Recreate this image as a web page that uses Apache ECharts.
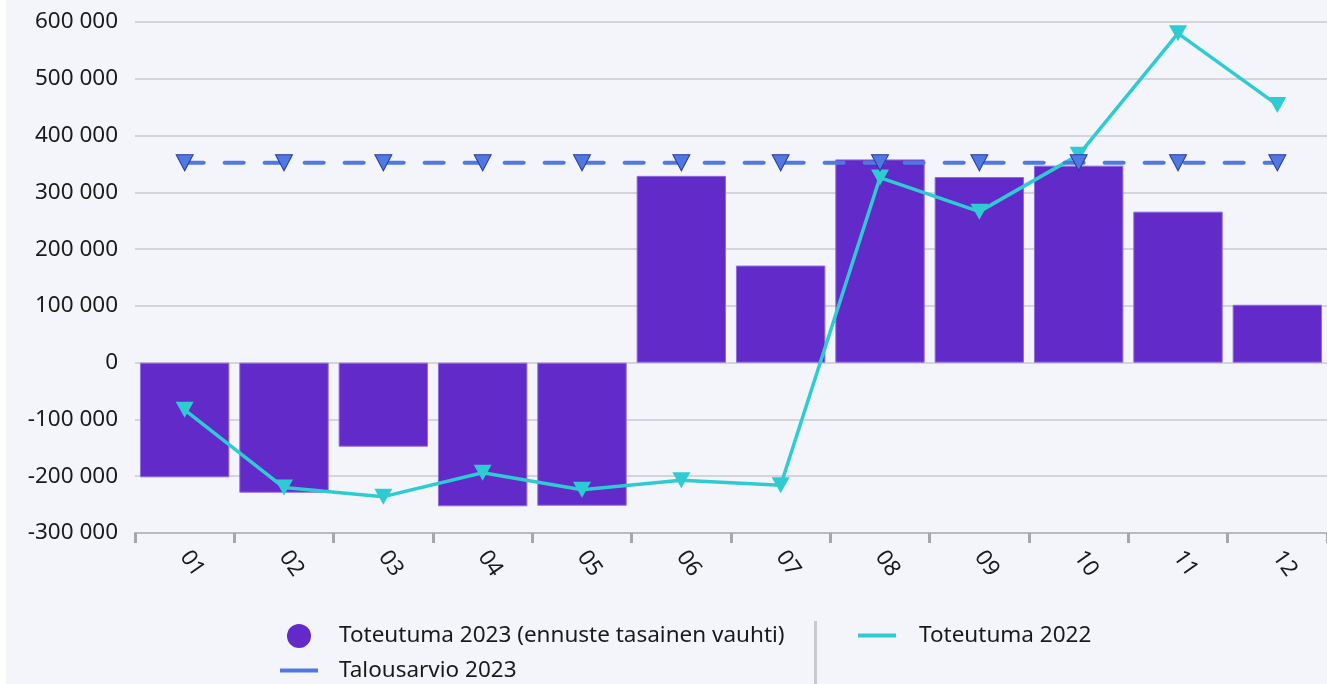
<!DOCTYPE html>
<html>
<head>
<meta charset="utf-8">
<script src="https://cdn.jsdelivr.net/npm/echarts@6/dist/echarts.min.js"></script>
<style>
  html, body { margin: 0; padding: 0; background: #ffffff; }
  #chart { position: absolute; left: 6px; top: 0; width: 1321px; height: 684px; background: #f4f5fa; }
</style>
</head>
<body>
<div id="chart"></div>
<script>
const months = ['01','02','03','04','05','06','07','08','09','10','11','12'];
const toteutuma2023 = [-202000, -229000, -148000, -253000, -252000, 329000, 171000, 358000, 327000, 347000, 266000, 102000];
const toteutuma2022 = [-83000, -220000, -236000, -194000, -224000, -207000, -216000, 326000, 266000, 366000, 580000, 454000];
const talousarvio2023 = [352000, 352000, 352000, 352000, 352000, 352000, 352000, 352000, 352000, 352000, 352000, 352000];
const yTicks = { min: -300000, max: 600000, interval: 100000 };
const names = ['Toteutuma 2023 (ennuste tasainen vauhti)', 'Toteutuma 2022', 'Talousarvio 2023'];

const FONT = 'Noto Sans';
const FS = 22.5;
function fmt(v) {
  const s = Math.abs(v).toString().replace(/\B(?=(\d{3})+(?!\d))/g, ' ');
  return (v < 0 ? '-' : '') + s;
}

const chart = echarts.init(document.getElementById('chart'), null, { renderer: 'canvas' });
chart.setOption({
  backgroundColor: '#f4f5fa',
  animation: false,
  textStyle: { fontFamily: FONT },
  grid: { left: 129, right: 0, top: 22, bottom: 151, containLabel: false },
  xAxis: {
    type: 'category',
    data: months,
    boundaryGap: true,
    axisLine: { onZero: false, lineStyle: { color: '#b9b9be', width: 2 } },
    axisTick: { show: true, alignWithLabel: false, length: 10, lineStyle: { color: '#a6a6ab', width: 3 } },
    axisLabel: { rotate: -55, color: '#1a1a1a', fontSize: FS, fontFamily: FONT, margin: 20 },
    splitLine: { show: false }
  },
  yAxis: {
    type: 'value',
    min: yTicks.min, max: yTicks.max, interval: yTicks.interval,
    axisLine: { show: false },
    axisTick: { show: false },
    axisLabel: { color: '#1a1a1a', fontSize: FS, fontFamily: FONT, margin: 17, formatter: fmt },
    splitLine: { lineStyle: { color: '#d4d4d9', width: 2 } }
  },
  legend: [
    {
      data: [
        { name: names[0], icon: 'circle', itemStyle: { color: '#612ac9', borderWidth: 0 } },
        { name: names[2], icon: 'path://M0,0H38V4H0Z', itemStyle: { color: '#4f78e2', borderWidth: 0 } }
      ],
      orient: 'vertical',
      left: 274, top: 624,
      padding: 0,
      itemWidth: 38, itemHeight: 24, itemGap: 11,
      textStyle: { fontSize: FS, color: '#1a1a1a', fontFamily: FONT, padding: [4, 0, 0, 16] }
    },
    {
      data: [
        { name: names[1], icon: 'path://M0,0H38V4H0Z', itemStyle: { color: '#2fcbd2', borderWidth: 0 } }
      ],
      orient: 'vertical',
      left: 852, top: 624,
      padding: 0,
      itemWidth: 38, itemHeight: 24, itemGap: 11,
      textStyle: { fontSize: FS, color: '#1a1a1a', fontFamily: FONT, padding: [4, 0, 0, 18] }
    }
  ],
  graphic: [
    { type: 'rect', left: 808, top: 621, shape: { width: 3, height: 70 }, style: { fill: '#c9c9cd' }, silent: true }
  ],
  series: [
    {
      name: names[0],
      type: 'bar',
      data: toteutuma2023,
      barCategoryGap: '10%',
      itemStyle: { color: '#612ac9', borderColor: '#8f6cdc', borderWidth: 1 }
    },
    {
      name: names[1],
      type: 'line',
      data: toteutuma2022,
      symbol: 'triangle', symbolRotate: 180, symbolSize: [18, 16],
      showAllSymbol: true,
      lineStyle: { color: '#2fcbd2', width: 3.5 },
      itemStyle: { color: '#2fcbd2' },
      z: 3
    },
    {
      name: names[2],
      type: 'line',
      data: talousarvio2023,
      symbol: 'triangle', symbolRotate: 180, symbolSize: [17, 16],
      showAllSymbol: true,
      lineStyle: { color: '#4f78e2', width: 4, type: [19, 21], cap: 'round' },
      itemStyle: { color: '#5078e2', borderColor: '#2a3aa0', borderWidth: 1 },
      z: 4
    }
  ]
});
</script>
</body>
</html>
